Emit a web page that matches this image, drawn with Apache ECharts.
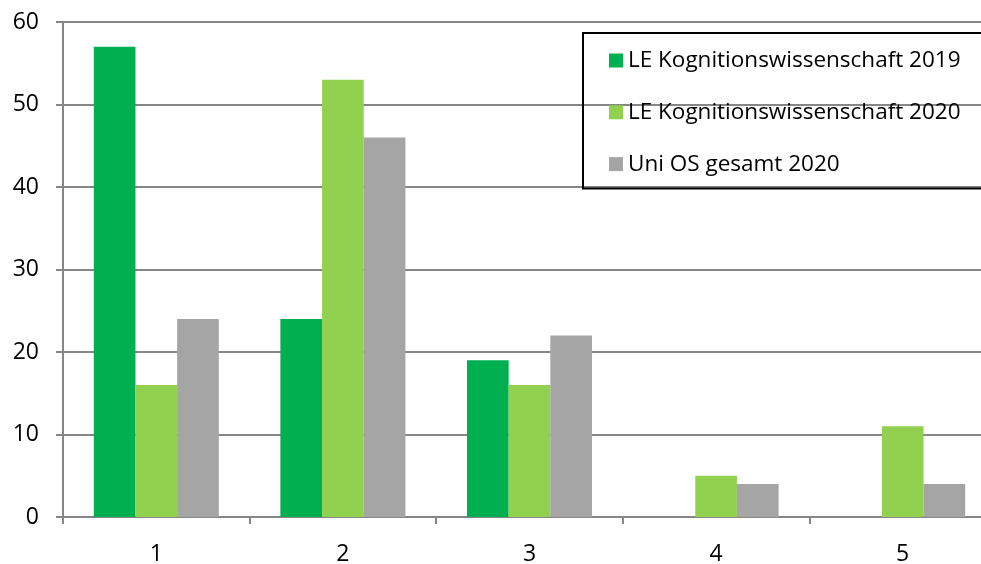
<!DOCTYPE html>
<html>
	<head>
		<meta charset="UTF-8">
		<title>Balkendiagramm</title>
		<script src="https://cdn.jsdelivr.net/npm/echarts@6/dist/echarts.min.js"></script>
		<style>
			body { margin: 0; background: #fff; }
		</style>
	</head>
	<body>
		<div id="main" style="width: 981px;height:564px;"></div>
		<script type="text/javascript">
		// Daten
		var categories = ['1', '2', '3', '4', '5'];
		var kogni2019 = [57, 24, 19, null, null];
		var kogni2020 = [16, 53, 16, 5, 11];
		var uniOS2020 = [24, 46, 22, 4, 4];
		var seriesNames = ['LE Kognitionswissenschaft 2019', 'LE Kognitionswissenschaft 2020', 'Uni OS gesamt 2020'];

		var font = 'Open Sans';
		var gridColor = '#868686';

		var myChart = echarts.init(document.getElementById('main'));
		var option = {
			animation: false,
			textStyle: { fontFamily: font },
			grid: {
				left: 63,
				top: 22,
				right: -15,
				bottom: 47,
				outerBoundsMode: 'none',
				containLabel: false
			},
			legend: {
				orient: 'vertical',
				left: 583,
				top: 33,
				itemWidth: 14,
				itemHeight: 14,
				itemGap: 28.8,
				padding: [16, 80, 13, 26],
				borderColor: '#000',
				borderWidth: 2,
				icon: 'rect',
				textStyle: { fontSize: 22.5, color: '#000', fontFamily: font },
				data: seriesNames
			},
			xAxis: {
				type: 'category',
				data: categories,
				axisLine: { lineStyle: { color: gridColor, width: 2 } },
				axisTick: { show: true, length: 7, lineStyle: { color: gridColor, width: 2 } },
				axisLabel: { fontSize: 23, color: '#000', margin: 26 }
			},
			yAxis: {
				type: 'value',
				min: 0,
				max: 60,
				interval: 10,
				axisLine: { show: true, lineStyle: { color: gridColor, width: 2 } },
				axisTick: { show: true, length: 7, lineStyle: { color: gridColor, width: 2 } },
				splitLine: { lineStyle: { color: gridColor, width: 2 } },
				axisLabel: { fontSize: 23, color: '#000', margin: 24 }
			},
			series: [
				{ name: seriesNames[0], type: 'bar', data: kogni2019, barGap: 0, barCategoryGap: '33%', itemStyle: { color: '#00B050' } },
				{ name: seriesNames[1], type: 'bar', data: kogni2020, barGap: 0, barCategoryGap: '33%', itemStyle: { color: '#92D050' } },
				{ name: seriesNames[2], type: 'bar', data: uniOS2020, barGap: 0, barCategoryGap: '33%', itemStyle: { color: '#A5A5A5' } }
			]
		};
		myChart.setOption(option);
	</script>
	</body>
</html>
